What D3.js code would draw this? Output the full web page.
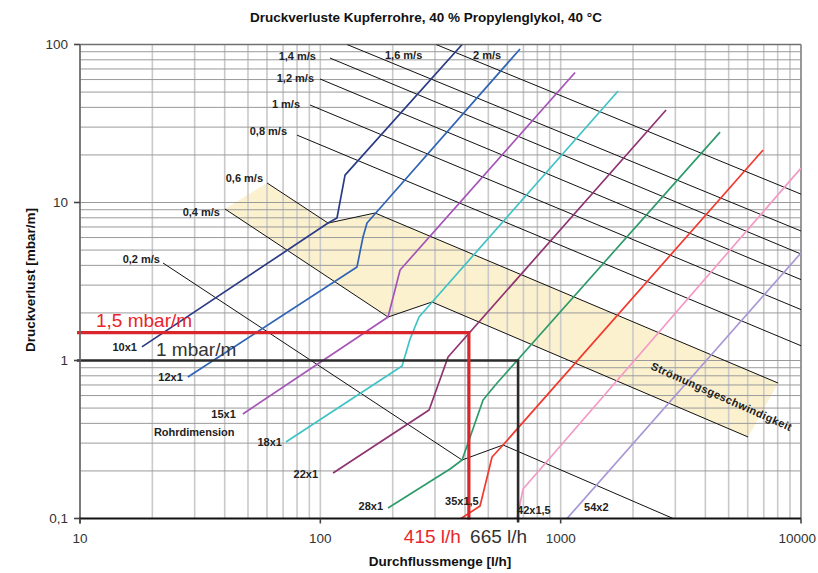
<!DOCTYPE html>
<html>
<head>
<meta charset="utf-8">
<script src="https://cdn.jsdelivr.net/npm/d3@7"></script>
<style>
  html, body { margin: 0; padding: 0; background: #fff; }
  svg { display: block; }
  text { font-family: "Liberation Sans", Arial, sans-serif; }
</style>
</head>
<body>
<svg id="chart" width="818" height="573"></svg>
<script>
// Pressure loss curves of copper pipes: [flow l/h, loss mbar/m]
const pipe10x1  = [[18.1, 1.22], [107.7, 7.41], [117.3, 7.98], [126.7, 14.9], [389, 100]];
const pipe12x1  = [[28.1, 0.786], [142.1, 3.91], [150.5, 6.05], [156.4, 7.42], [677.6, 93.7]];
const pipe15x1  = [[47.6, 0.459], [191.3, 1.885], [214.7, 3.74], [1148, 66.5]];
const pipe18x1  = [[71.9, 0.305], [218.8, 0.923], [236.2, 1.368], [257.4, 1.885], [1734, 50.8]];
const pipe22x1  = [[113, 0.194], [283.5, 0.486], [340, 1.052], [2745, 38.5]];
const pipe28x1  = [[191.3, 0.1165], [346.5, 0.2058], [388.8, 0.2346], [475.5, 0.562], [543.8, 0.721], [4606, 27.9]];
const pipe35x15 = [[385, 0.1], [461.9, 0.12], [518.2, 0.245], [575.9, 0.292], [6955, 21.5]];
const pipe42x15 = [[658.5, 0.1], [697.5, 0.1537], [10000, 16.5]];
const pipe54x2  = [[1063, 0.1], [10000, 4.79]];
const pipeNames = ["10x1", "12x1", "15x1", "18x1", "22x1", "28x1", "35x1,5", "42x1,5", "54x2"];

// Lines of constant flow velocity: [flow l/h, loss mbar/m]
const vel02 = [[22.15, 4.14], [388.8, 0.2346], [575.9, 0.292], [2937, 0.1]];
const vel04 = [[40.1, 9.10], [191.3, 1.885], [291.6, 2.346], [6024, 0.328]];
const vel06 = [[60.0, 13.3], [107.7, 7.41], [168.9, 8.58], [8030, 0.72]];
const vel08 = [[80.0, 26.7], [10000, 1.24]];
const vel10 = [[90.6, 41.4], [10000, 2.10]];
const vel12 = [[99.7, 60.5], [10000, 3.25]];
const vel14 = [[109.7, 82.1], [10000, 4.72]];
const vel16 = [[129.1, 100], [10000, 6.60]];
const vel20 = [[303, 100], [10000, 11.3]];
const velNames = ["0,2 m/s", "0,4 m/s", "0,6 m/s", "0,8 m/s", "1 m/s", "1,2 m/s", "1,4 m/s", "1,6 m/s", "2 m/s"];

// Worked example readings
const exampleLoss = [1.5, 1];        // mbar/m
const exampleFlow = [415, 665];      // l/h
const exampleLossLabels = ["1,5 mbar/m", "1 mbar/m"];
const exampleFlowLabels = ["415 l/h", "665 l/h"];

// Axis ticks
const xTickValues = [10, 100, 1000, 10000];
const xTickLabels = ["10", "100", "1000", "10000"];
const yTickValues = [0.1, 1, 10, 100];
const yTickLabels = ["0,1", "1", "10", "100"];

(function () {
  // ---- styling ----
  const pipeColors = ["#2b3b85", "#2f64b6", "#a553b6", "#3fc3c6", "#8f3371", "#2e9b6b", "#f1392e", "#f49ac7", "#a897d6"];
  // label placement relative to first point of each series: [dx, dy, anchor]
  const pipeLabelPos = [[-5, 4, "end"], [-5, 4, "end"], [-7, 4, "end"], [-4, 4, "end"], [-15, 5, "end"],
                        [-5, 2, "end"], [-16, -14, "start"], [0, -4.5, "start"], [17, -8, "start"]];
  const velLabelPos = [[-3, 0, "end"], [-5, 7, "end"], [-4, -1, "end"], [-10, 0, "end"], [-10, 3, "end"],
                       [-6, 3, "end"], [-14, 2, "end"], [38, 14.5, "start"], [37, 14.5, "start"]];

  const svg = d3.select("#chart");
  const pL = 80, pR = 801, pT = 44.5, pB = 518.5;

  const x = d3.scaleLog().domain([10, 10000]).range([pL, pR]);
  const y = d3.scaleLog().domain([0.1, 100]).range([pB, pT]);
  const line = d3.line().x(d => x(d[0])).y(d => y(d[1]));

  svg.append("defs").append("clipPath").attr("id", "plot")
    .append("rect").attr("x", pL).attr("y", pT).attr("width", pR - pL).attr("height", pB - pT);

  // velocity band between 0.4 and 0.6 m/s
  const bandPts = vel06.concat(vel04.slice().reverse());
  svg.append("path")
    .attr("d", line(bandPts) + "Z")
    .attr("fill", "#fcf1cf")
    .attr("clip-path", "url(#plot)");

  // grid
  const grid = svg.append("g");
  grid.selectAll("line.v").data(x.ticks()).join("line")
    .attr("x1", d => x(d)).attr("x2", d => x(d))
    .attr("y1", pT).attr("y2", pB)
    .attr("stroke", "#c9c9c9").attr("stroke-width", 1.6);
  grid.selectAll("line.h").data(y.ticks()).join("line")
    .attr("x1", pL).attr("x2", pR)
    .attr("y1", d => y(d)).attr("y2", d => y(d))
    .attr("stroke", "#9a9a9a").attr("stroke-width", 1);

  // frame
  svg.append("line").attr("x1", pL).attr("x2", pR).attr("y1", pT).attr("y2", pT)
    .attr("stroke", "#707070").attr("stroke-width", 1.5);
  svg.append("line").attr("x1", pR).attr("x2", pR).attr("y1", pT).attr("y2", pB)
    .attr("stroke", "#8a8a8a").attr("stroke-width", 1.6);

  const plot = svg.append("g").attr("clip-path", "url(#plot)");

  // velocity lines
  const velSeries = [vel02, vel04, vel06, vel08, vel10, vel12, vel14, vel16, vel20];
  plot.selectAll("path.vel").data(velSeries).join("path")
    .attr("d", d => line(d))
    .attr("fill", "none").attr("stroke", "#111").attr("stroke-width", 1);

  // pipe curves
  const pipeSeries = [pipe10x1, pipe12x1, pipe15x1, pipe18x1, pipe22x1, pipe28x1, pipe35x15, pipe42x15, pipe54x2];
  plot.selectAll("path.pipe").data(pipeSeries).join("path")
    .attr("d", d => line(d))
    .attr("fill", "none")
    .attr("stroke", (d, i) => pipeColors[i])
    .attr("stroke-width", 1.7)
    .attr("stroke-linejoin", "round");

  // worked examples: loss -> flow
  const exColors = ["#d8262c", "#2b2b2b"];
  const exWidths = [3.2, 2.6];
  [1, 0].forEach(i => {
    const px = x(exampleFlow[i]), py = y(exampleLoss[i]);
    svg.append("path")
      .attr("d", `M${pL - 3},${py}H${px}V${pB + (i === 1 ? 4 : 1)}`)
      .attr("fill", "none").attr("stroke", exColors[i]).attr("stroke-width", exWidths[i])
      .attr("stroke-linejoin", "miter");
  });

  // axes
  svg.append("line").attr("x1", pL).attr("x2", pL).attr("y1", pT).attr("y2", pB + 5)
    .attr("stroke", "#666").attr("stroke-width", 1.6);
  svg.append("line").attr("x1", pL - 1).attr("x2", pR).attr("y1", pB).attr("y2", pB)
    .attr("stroke", "#111").attr("stroke-width", 1.8);
  svg.selectAll("line.yt").data(yTickValues).join("line")
    .attr("x1", pL - 6).attr("x2", pL).attr("y1", d => y(d)).attr("y2", d => y(d))
    .attr("stroke", "#444").attr("stroke-width", 1.6);
  svg.selectAll("line.xt").data(xTickValues).join("line")
    .attr("x1", d => x(d)).attr("x2", d => x(d)).attr("y1", pB).attr("y2", pB + 5)
    .attr("stroke", "#444").attr("stroke-width", 1.6);

  svg.selectAll("text.yl").data(yTickValues).join("text")
    .attr("x", pL - 12).attr("y", d => y(d) + 4.5)
    .attr("text-anchor", "end").attr("font-size", 13.5).attr("fill", "#333")
    .text((d, i) => yTickLabels[i]);
  svg.selectAll("text.xl").data(xTickValues).join("text")
    .attr("x", (d, i) => i === xTickValues.length - 1 ? 816 : x(d))
    .attr("y", pB + 24)
    .attr("text-anchor", (d, i) => i === xTickValues.length - 1 ? "end" : "middle")
    .attr("font-size", 13.5).attr("fill", "#333")
    .text((d, i) => xTickLabels[i]);

  // titles
  svg.append("text").attr("x", 426).attr("y", 22).attr("text-anchor", "middle")
    .attr("font-size", 13.5).attr("font-weight", "bold").attr("fill", "#111")
    .text("Druckverluste Kupferrohre, 40 % Propylenglykol, 40 °C");
  svg.append("text").attr("x", 440).attr("y", 566).attr("text-anchor", "middle")
    .attr("font-size", 13.5).attr("font-weight", "bold").attr("fill", "#111")
    .text("Durchflussmenge [l/h]");
  svg.append("text").attr("transform", "translate(35,280) rotate(-90)").attr("text-anchor", "middle")
    .attr("font-size", 13.5).attr("font-weight", "bold").attr("fill", "#111")
    .text("Druckverlust [mbar/m]");

  // series labels
  const lbl = svg.append("g").attr("font-size", 11).attr("font-weight", "bold").attr("fill", "#222");
  pipeSeries.forEach((s, i) => {
    const [dx, dy, anchor] = pipeLabelPos[i];
    lbl.append("text").attr("x", x(s[0][0]) + dx).attr("y", y(s[0][1]) + dy)
      .attr("text-anchor", anchor).text(pipeNames[i]);
  });
  velSeries.forEach((s, i) => {
    const [dx, dy, anchor] = velLabelPos[i];
    lbl.append("text").attr("x", x(s[0][0]) + dx).attr("y", y(s[0][1]) + dy)
      .attr("text-anchor", anchor).text(velNames[i]);
  });
  lbl.append("text").attr("x", x(20.3)).attr("y", y(0.333)).text("Rohrdimension");
  lbl.append("text")
    .attr("transform", `translate(${x(2355)},${y(0.884)}) rotate(24)`)
    .attr("letter-spacing", 0.4)
    .text("Strömungsgeschwindigkeit");

  // example labels
  const exFont = '"DejaVu Sans", Verdana, sans-serif';
  svg.append("text").attr("x", 96).attr("y", y(exampleLoss[0]) - 6)
    .attr("font-family", exFont).attr("font-size", 19).attr("fill", "#e8262b")
    .text(exampleLossLabels[0]);
  svg.append("text").attr("x", 156).attr("y", y(exampleLoss[1]) - 5)
    .attr("font-family", exFont).attr("font-size", 19).attr("fill", "#333")
    .text(exampleLossLabels[1]);
  svg.append("text").attr("x", x(exampleFlow[0]) - 8).attr("y", 543)
    .attr("text-anchor", "end")
    .attr("font-family", exFont).attr("font-size", 19).attr("fill", "#e8262b")
    .text(exampleFlowLabels[0]);
  svg.append("text").attr("x", x(exampleFlow[1]) - 48).attr("y", 543)
    .attr("font-family", exFont).attr("font-size", 19).attr("fill", "#333")
    .text(exampleFlowLabels[1]);
})();
</script>
</body>
</html>
